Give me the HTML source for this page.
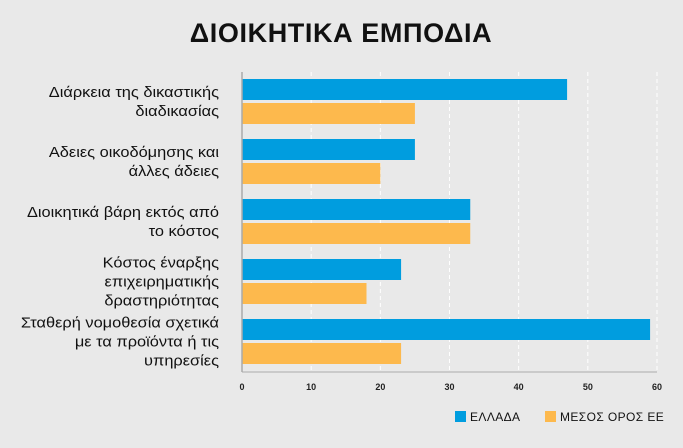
<!DOCTYPE html>
<html><head><meta charset="utf-8"><style>
body{margin:0;background:#e9e9e9;font-family:"Liberation Sans",sans-serif}
</style></head><body>
<svg width="683" height="443" xmlns="http://www.w3.org/2000/svg">
<rect width="683" height="443" fill="#e9e9e9"/>
<text x="341" y="42" text-anchor="middle" font-size="27" font-weight="bold" fill="#111" letter-spacing="0.6">ΔΙΟΙΚΗΤΙΚΑ ΕΜΠΟΔΙΑ</text>
<g id="grid"></g><g id="bars"></g><g id="labels"></g>
<g id="cats" transform="translate(219,0) scale(1.13,1)"></g>
<line x1="242" y1="72" x2="242" y2="372" stroke="#aaa" stroke-width="1.5"/>
<line x1="242" y1="372" x2="657" y2="372" stroke="#aaa" stroke-width="1"/>
<g>
<rect x="455" y="411" width="11" height="11" fill="#009ddf"/>
<text x="470" y="421" font-size="12" letter-spacing="0.4" fill="#111">ΕΛΛΑΔΑ</text>
<rect x="545" y="411" width="11" height="11" fill="#fdb94d"/>
<text x="560" y="421" font-size="12" letter-spacing="0.4" fill="#111">ΜΕΣΟΣ ΟΡΟΣ ΕΕ</text>
</g>
</svg>
<script>
const categories=[["Διάρκεια της δικαστικής","διαδικασίας"],["Αδειες οικοδόμησης και","άλλες άδειες"],["Διοικητικά βάρη εκτός από","το κόστος"],["Κόστος έναρξης","επιχειρηματικής","δραστηριότητας"],["Σταθερή νομοθεσία σχετικά","με τα προϊόντα ή τις","υπηρεσίες"]];
const greece=[47,25,33,23,59];
const euAvg=[25,20,33,18,23];
const ticks=[0,10,20,30,40,50,60];
const NS="http://www.w3.org/2000/svg";
const x=v=>242+v*(415/60);
const gy=i=>79+i*60;
function mk(t,a,p){const e=document.createElementNS(NS,t);for(const k in a)e.setAttribute(k,a[k]);document.getElementById(p).appendChild(e);return e;}
ticks.forEach(t=>{
  if(t>0){const l=mk('line',{x1:x(t),y1:72,x2:x(t),y2:372,stroke:'#fff','stroke-dasharray':'4,3','stroke-width':1},'grid');
  
  }
  const tx=mk('text',{x:x(t),y:390,'text-anchor':'middle','font-size':9,'font-weight':'bold',fill:'#222'},'labels');
  tx.textContent=t;
  
  
});
categories.forEach((c,i)=>{
  const b=mk('rect',{x:242,y:gy(i),width:x(greece[i])-242,height:21,fill:'#009ddf'},'bars');
  
  
  const o=mk('rect',{x:242,y:gy(i)+24,width:x(euAvg[i])-242,height:21,fill:'#fdb94d'},'bars');
  
  
  const n=c.length, cy=gy(i)+22.5, lh=19;
  c.forEach((line,j)=>{
    const t=mk('text',{x:0,y:cy+(j-(n-1)/2)*lh+5,'text-anchor':'end','font-size':14.5,fill:'#111'},'cats');
    t.textContent=line;
    
    
  });
});
</script>
</body></html>
